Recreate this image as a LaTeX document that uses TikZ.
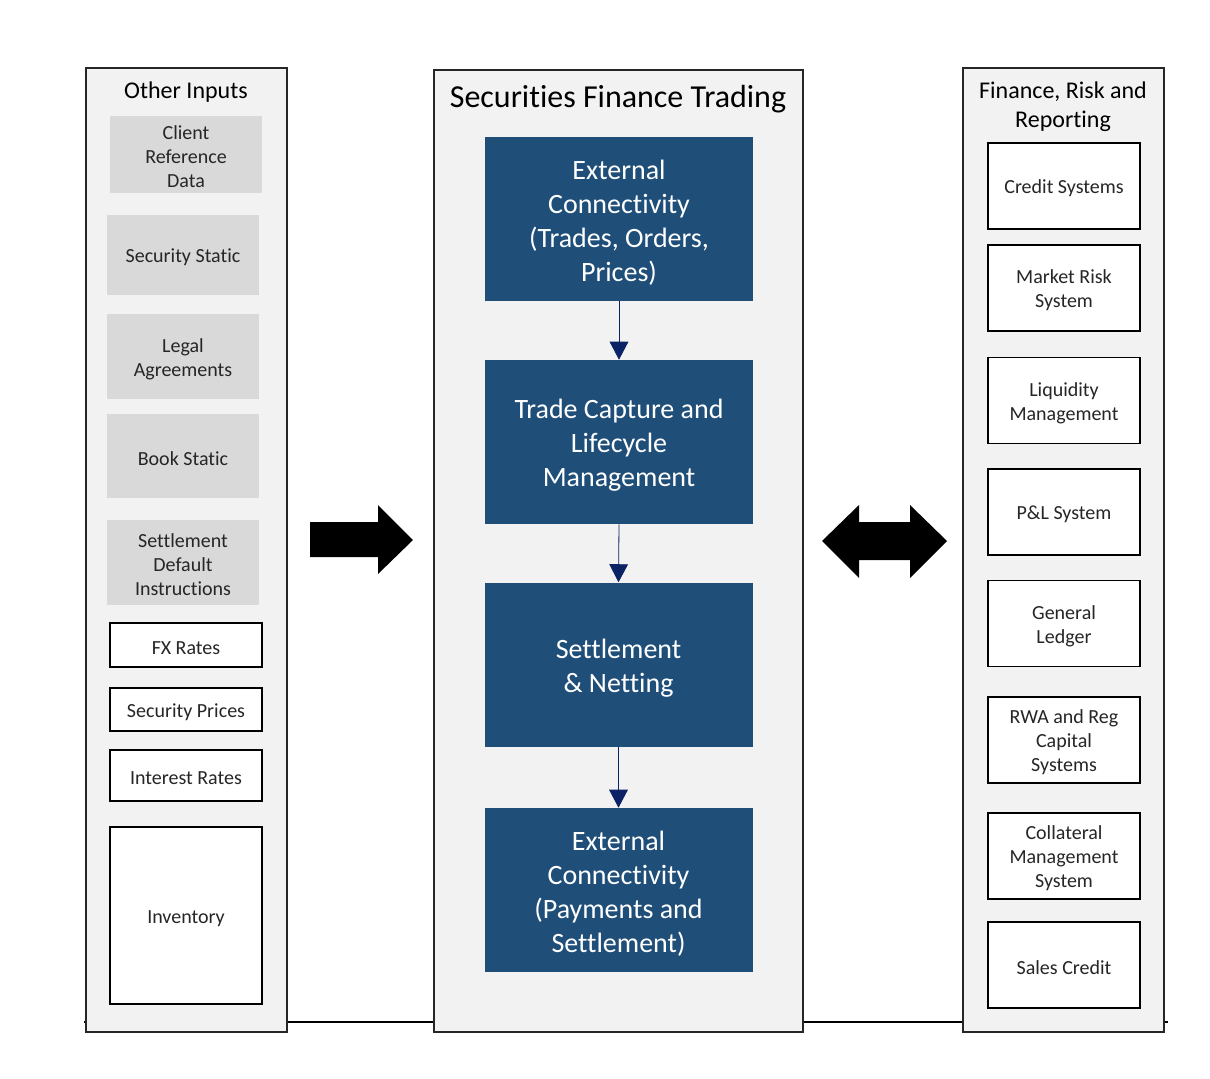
\documentclass[tikz,border=0pt]{standalone}
\usepackage{fontspec}
\setmainfont{Carlito}[Ligatures=NoCommon]
\usetikzlibrary{arrows.meta}

\definecolor{panelgrey}{HTML}{F2F2F2}
\definecolor{inputgrey}{HTML}{D9D9D9}
\definecolor{sftblue}{HTML}{1F4E79}
\definecolor{flownavy}{HTML}{0B2264}

\newcommand{\liftline}{\rule{0pt}{0.95em}}

\begin{document}
\begin{tikzpicture}[x=0.75pt, y=-0.75pt,
    panel/.style    = {draw=black!85, line width=1.5pt, fill=panelgrey, inner sep=0pt},
    lowered/.style  = {execute at begin node={\liftline}},
    greybox/.style  = {fill=inputgrey, minimum width=114pt, inner sep=2pt, align=center,
                       font=\fontsize{15}{18}\selectfont, text=black!85, lowered},
    whitebox/.style = {draw=black, line width=1.3pt, fill=white, minimum width=114pt,
                       inner sep=2pt, align=center, font=\fontsize{15}{18}\selectfont, text=black!85, lowered},
    bluebox/.style  = {fill=sftblue, minimum width=201pt, minimum height=123pt, inner sep=2pt,
                       align=center, text=white, font=\fontsize{21}{25.5}\selectfont, lowered},
    paneltitle/.style = {align=center, font=\fontsize{18}{21.75}\selectfont},
    flow/.style     = {draw=flownavy, line width=0.6pt, -{Triangle[width=14pt,length=13.5pt]}}
]
    % Definitions
    \useasboundingbox (0,0) rectangle (1210,1078);
    \coordinate (baseL) at (84,1022);
    \coordinate (baseR) at (1168,1022);
    % Base line behind the panels
    \draw[line width=1.5pt] (baseL) -- (baseR);
    % Panels
    \node[panel, minimum width=150.75pt, minimum height=723pt]   (inputs)  at (186.5,550) {};
    \node[panel, minimum width=276.75pt, minimum height=721.5pt] (trading) at (618.5,551) {};
    \node[panel, minimum width=150.75pt, minimum height=723pt]   (finance) at (1063.5,550) {};
    % Panel titles
    \node[paneltitle] (inputstitle)  at (186,92)  {Other Inputs};
    \node[paneltitle, font=\fontsize{24}{29}\selectfont] (tradingtitle) at (618,99) {Securities Finance Trading};
    \node[paneltitle] (financetitle) at (1063,103.5) {\liftline Finance, Risk and\\Reporting};
    % Other inputs
    \node[greybox, minimum height=57.75pt] (client)  at (186,154.5) {\liftline Client\\Reference\\Data};
    \node[greybox, minimum height=60pt]    (secstat) at (183,255)   {Security Static};
    \node[greybox, minimum height=63.75pt] (legal)   at (183,356.5) {\liftline Legal\\Agreements};
    \node[greybox, minimum height=63pt]    (book)    at (183,456)   {Book Static};
    \node[greybox, minimum height=63.75pt] (ssi)     at (183,562.5) {\liftline Settlement\\Default\\Instructions};
    \node[whitebox, minimum height=33pt]     (fx)     at (186,645)   {FX Rates};
    \node[whitebox, minimum height=32.25pt]  (prices) at (186,709.5) {Security Prices};
    \node[whitebox, minimum height=38.25pt]  (rates)  at (186,775.5) {Interest Rates};
    \node[whitebox, minimum height=132.75pt] (inv)    at (186,915.5) {Inventory};
    % Trading flow
    \node[bluebox] (extin)   at (619,219)   {\liftline External\\Connectivity\\(Trades, Orders,\\Prices)};
    \node[bluebox] (capture) at (619,442)   {\liftline Trade Capture and\\Lifecycle\\Management};
    \node[bluebox] (settle)  at (618.5,664.5) {\liftline Settlement\\\& Netting};
    \node[bluebox] (extout)  at (618.5,890) {\liftline External\\Connectivity\\(Payments and\\Settlement)};
    \draw[flow] (extin.south)   -- (capture.north);
    \draw[flow] (capture.south) -- (settle.north);
    \draw[flow] (settle.south)  -- (extout.north);
    % Finance, risk and reporting
    \node[whitebox, minimum height=64.5pt] (credit)  at (1064,186)   {Credit Systems};
    \node[whitebox, minimum height=64.5pt] (mktrisk) at (1064,288)   {\liftline Market Risk\\System};
    \node[whitebox, minimum height=64.5pt] (liq)     at (1064,400.5) {\liftline Liquidity\\Management};
    \node[whitebox, minimum height=64.5pt] (pnl)     at (1064,512)   {P\&L System};
    \node[whitebox, minimum height=64.5pt] (gl)      at (1064,623.5) {\liftline General\\Ledger};
    \node[whitebox, minimum height=64.5pt] (rwa)     at (1064,740)   {\liftline RWA and Reg\\Capital\\Systems};
    \node[whitebox, minimum height=64.5pt] (coll)    at (1064,856)   {\liftline Collateral\\Management\\System};
    \node[whitebox, minimum height=64.5pt] (sales)   at (1064,965)   {Sales Credit};
    % Block arrows
    \fill (310,522) -- (378,522) -- (378,505) -- (413,540) -- (378,574)
          -- (378,557) -- (310,557) -- cycle;                       % inputs to trading
    \fill (822,541) -- (859,505) -- (859,522) -- (910,522) -- (910,505) -- (947,541)
          -- (910,578) -- (910,560) -- (859,560) -- (859,578) -- cycle; % trading to finance
\end{tikzpicture}
\end{document}
